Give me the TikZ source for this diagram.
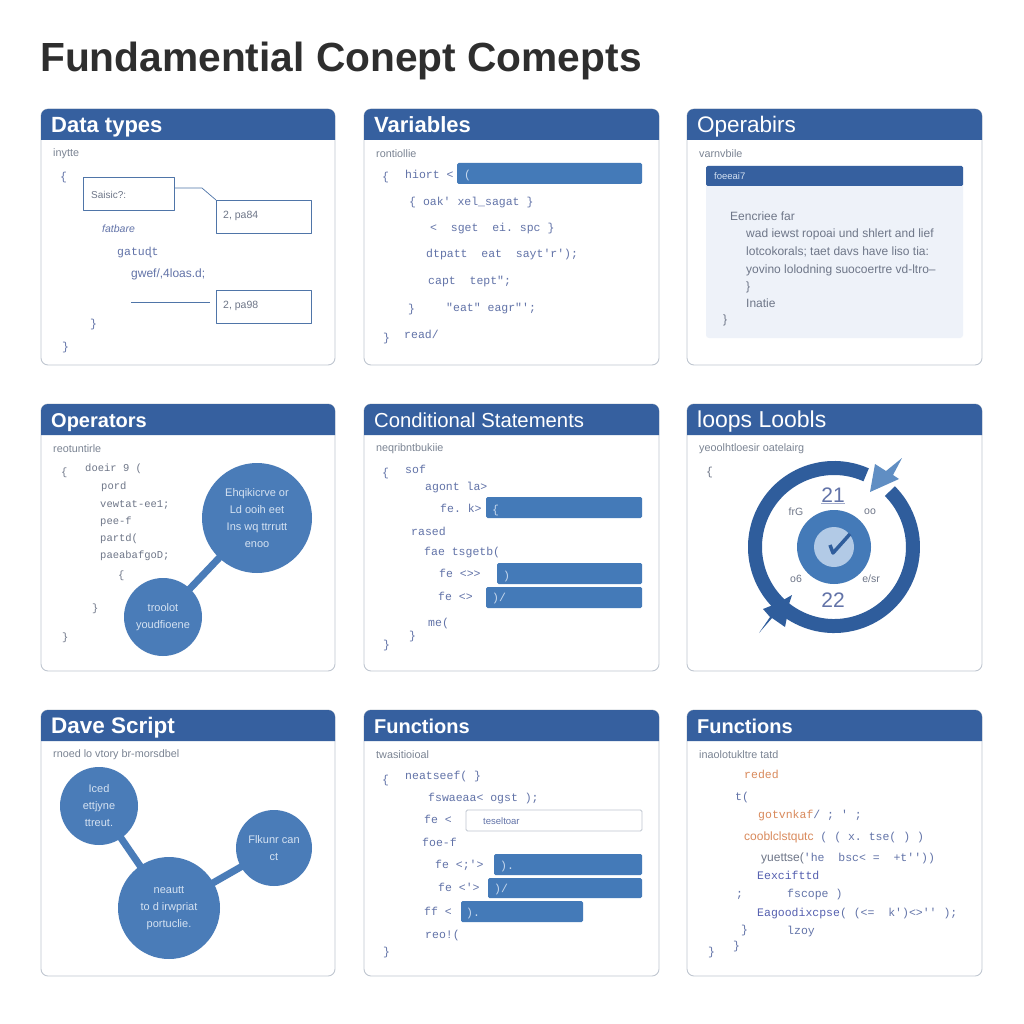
\documentclass[tikz,border=0pt]{standalone}
\usepackage{fontspec}
\setmainfont{Liberation Sans}
\newfontfamily\codefont{Liberation Mono}
\definecolor{hdrblue}{HTML}{36609F}
\definecolor{barblue}{HTML}{447AB8}
\definecolor{bubblue}{HTML}{4A7CB8}
\definecolor{ringblue}{HTML}{2F5D9C}
\definecolor{edgegray}{HTML}{BFC6D0}
\definecolor{subgray}{HTML}{7B8493}
\definecolor{codeslate}{HTML}{6273A8}
\definecolor{codegray}{HTML}{6E7688}
\definecolor{barmark}{HTML}{C6D8EE}
\definecolor{bubtext}{HTML}{D5E2F2}
\definecolor{boxline}{HTML}{4F75A8}
\definecolor{paleblue}{HTML}{EEF2F9}
\definecolor{warmcode}{HTML}{D98A5C}
\definecolor{violetcode}{HTML}{5560B0}
\newcommand{\hdrsize}[1]{\fontsize{#1}{24}\selectfont}
\tikzset{
  paneledge/.style={draw=edgegray, line width=0.9pt, fill=white, rounded corners=7pt},
  hdrtext/.style={anchor=west, inner sep=0pt, text=white, text height=16pt, text depth=5pt},
  subline/.style={anchor=west, inner sep=0pt, text=subgray, font=\fontsize{10.8}{12}\selectfont},
  codeline/.style={anchor=west, inner sep=0pt, text=codeslate, text height=8pt, text depth=2pt, font=\codefont\fontsize{11.5}{13}\selectfont},
  proseline/.style={anchor=west, inner sep=0pt, text=codegray, font=\fontsize{12}{14}\selectfont},
  codebar/.style={fill=barblue, rounded corners=1.5pt},
  pagebox/.style={draw=boxline, line width=0.9pt, minimum width=95pt, minimum height=33pt, anchor=north west, inner sep=0pt},
  bubble/.style={circle, fill=bubblue, inner sep=0pt, align=center, text=bubtext, font=\fontsize{11}{17}\selectfont},
  linkbar/.style={draw=bubblue, line width=7pt},
  dialtext/.style={inner sep=0pt, text=codegray, font=\fontsize{10.5}{12}\selectfont},
  dialnum/.style={inner sep=0pt, text=codeslate, font=\fontsize{21}{24}\selectfont}
}
\newcommand{\panelbox}[7]{
  \draw[paneledge] (#2,#3) rectangle (#4,#5);
  \fill[hdrblue] (#2,#3+31) [rounded corners=7pt] -- (#2,#3) -- (#4,#3) [sharp corners] -- (#4,#3+31) -- cycle;
  \node[hdrtext] (#1head) at (#2+10,#3+18) {#6};
  \node[subline] (#1sub) at (#2+12,#3+45) {#7};
}
\newcommand{\codelines}[3][]{
  \foreach[count=\i] \xx/\yy/\txt in {#3} \node[codeline,#1] (#2\i) at (\xx,\yy) {\txt};
}
\begin{document}
\begin{tikzpicture}[x=1pt, y=-1pt, line join=round]
	\useasboundingbox (0,0) rectangle (1024,1024);
	\node[anchor=west, inner sep=0pt, text=black!82, font=\fontsize{40.7}{44}\bfseries] (maintitle) at (40,61) {Fundamential Conept Comepts};

	\panelbox{dt}{41}{109}{335}{365}{\hdrsize{22}\bfseries Data types}{inytte}
	\node[pagebox, minimum width=91pt] (basic) at (83,177) {};
	\node[pagebox] (paA) at (216,200) {};
	\node[pagebox] (paB) at (216,290) {};
	\node[anchor=west, inner sep=0pt, text=codegray, font=\fontsize{10}{12}\selectfont] (basictxt) at (91,195) {Saisic?:};
	\node[anchor=west, inner sep=0pt, text=codegray, font=\fontsize{10.5}{12}\selectfont] (paAtxt) at (223,216) {2, pa84};
	\node[anchor=west, inner sep=0pt, text=codegray, font=\fontsize{10.5}{12}\selectfont] (paBtxt) at (223,306) {2, pa98};
	\draw[boxline, line width=0.7pt] ([yshift=6pt]basic.east) -- ++(27,0) -- (paA.north west);
	\coordinate (ruleA) at (131,302);
	\coordinate (ruleB) at (210,302);
	\draw[boxline, line width=0.7pt] (ruleA) -- (ruleB);
	\codelines{dt}{60/178/\{, 102/230/{\normalfont\fontsize{10.5}{12}\selectfont\itshape fatbare}, 117/252/gatuɖt, 131/274/{\normalfont\fontsize{12}{14}\selectfont gwef/,4loas.d;}, 90/324/\}, 62/347/\}}

	\panelbox{vr}{364}{109}{659}{365}{\hdrsize{22}\bfseries Variables}{rontiollie}
	\fill[codebar] (457,163) rectangle (642,184);
	\codelines{vr}{382/178/\{, 405/176/{hiort~<}, 464/176/{\textcolor{barmark}{(}}, 409/203/{\{~oak'~xel\_sagat~\}}, 430/229/{<~~sget~~ei.~spc~\}}, 426/255/{dtpatt~~eat~~sayt'r');}, 428/281/{capt~~tept";}, 408/309/\}, 446/308/{"eat"~eagr"';}, 383/338/\}, 404/335/{read/}}

	\panelbox{op}{687}{109}{982}{365}{\hdrsize{22.5}Operabirs}{varnvbile}
	\fill[paleblue, rounded corners=3pt] (706,166) rectangle (963,338);
	\fill[hdrblue, rounded corners=1.5pt] (706,166) rectangle (963,186);
	\node[anchor=west, inner sep=0pt, text=bubtext, font=\fontsize{9.5}{12}\selectfont] (opbar) at (714,176) {foeeai7};
	\foreach[count=\i] \xx/\yy/\txt in {730/216/Eencriee far, 746/234/wad iewst ropoai und shlert and lief, 746/252/{lotcokorals; taet davs have liso tia:}, 746/270/yovino lolodning suocoertre vd-ltro--, 746/287/\}, 746/303/Inatie, 723/320/\}}
		\node[proseline] (prose\i) at (\xx,\yy) {\txt};

	\panelbox{of}{41}{404}{335}{671}{\hdrsize{20}\bfseries Operators}{reotuntirle}
	\draw[linkbar] (257,518) -- (163,617);
	\node[bubble, minimum size=110pt] (bigop) at (257,518) {Ehqikicrve or\\Ld ooih eet\\Ins wq ttrrutt\\enoo};
	\node[bubble, minimum size=78pt] (smallop) at (163,617) {troolot\\youdfioene};
	\codelines[text=codegray, font=\codefont\fontsize{10.5}{13}\selectfont]{of}{61/472/\{, 85/468/{doeir~9~(}, 101/486/pord, 100/504/vewtat-ee1;, 100/521/pee-f, 100/538/partd(, 100/555/{paeabafgoD;}, 118/575/\{, 92/608/\}, 62/637/\}}

	\panelbox{cs}{364}{404}{659}{671}{\hdrsize{20.3}Conditional Statements}{neqribntbukiie}
	\fill[codebar] (486,497) rectangle (642,518);
	\fill[codebar] (497,563) rectangle (642,584);
	\fill[codebar] (486,587) rectangle (642,608);
	\codelines{cs}{382/473/\{, 405/470/sof, 425/487/{agont~la>}, 440/509/{fe.~k>}, 492/510/{\textcolor{barmark}{\{}}, 411/532/rased, 424/552/{fae~tsgetb(}, 439/574/{fe~<>>}, 503/576/{\textcolor{barmark}{)}}, 438/597/{fe~<>}, 492/598/{\textcolor{barmark}{)/}}, 428/623/me(, 409/636/\}, 383/645/\}}

	\panelbox{lp}{687}{404}{982}{671}{\hdrsize{23}loops Loobls}{yeoolhtloesir oatelairg}
	\coordinate (loopc) at (834,547);
	\draw[ringblue, line width=14pt] (loopc) ++(-66:79) arc[start angle=-66, end angle=-405, radius=79];
	\fill[barblue!85!white] (870,492) -- (875,464) -- (886,471) -- (902,458) -- (893,475) -- (899,479) -- cycle;
	\fill[ringblue] (759,633) -- (770,617) -- (763,609) -- (778,603) -- (792,595) -- (787,610) -- (795,615) -- (787,617) -- (785,627) -- (772,618) -- cycle;
	\node[circle, fill=barblue, minimum size=74pt, inner sep=0pt] (hubout) at (loopc) {};
	\node[circle, fill=barmark!85!barblue, minimum size=40pt, inner sep=0pt] (hubin) at (loopc) {};
	\draw[ringblue, line width=3.5pt] (830,545) -- (833,553) -- (850,534);
	\node[dialnum] (numA) at (833,495) {21};
	\node[dialnum] (numB) at (833,600) {22};
	\draw[codeslate!60, line width=0.6pt] ([yshift=-1pt]numA.south west) -- ([yshift=-1pt]numA.south east);
	\node[dialtext] (dialA) at (796,512) {frG};
	\node[dialtext] (dialB) at (870,512) {oo};
	\node[dialtext] (dialC) at (796,579) {o6};
	\node[dialtext] (dialD) at (871,579) {e/sr};
	\codelines[text=codegray]{lp}{706/472/\{}

	\panelbox{ds}{41}{710}{335}{976}{\hdrsize{22.5}\bfseries Dave Script}{rnoed lo vtory br-morsdbel}
	\coordinate (linkA) at (99,806);
	\coordinate (linkB) at (274,848);
	\coordinate (linkC) at (169,908);
	\draw[linkbar] (linkA) -- (linkC);
	\draw[linkbar] (linkB) -- (linkC);
	\node[bubble, minimum size=78pt] (leftbub) at (linkA) {Iced\\ettjyne\\ttreut.};
	\node[bubble, minimum size=76pt] (rightbub) at (linkB) {Flkunr can\\ct};
	\node[bubble, minimum size=102pt] (lowbub) at (linkC) {neautt\\to d irwpriat\\portuclie.};

	\panelbox{fa}{364}{710}{659}{976}{\hdrsize{20}\bfseries Functions}{twasitioioal}
	\draw[edgegray, line width=0.8pt, fill=white, rounded corners=1.5pt] (466,810) rectangle (642,831);
	\node[anchor=west, inner sep=0pt, text=codeslate, font=\fontsize{9.5}{12}\selectfont] (faboxtxt) at (483,821) {teseltoar};
	\fill[codebar] (494,854) rectangle (642,875);
	\fill[codebar] (488,878) rectangle (642,898);
	\fill[codebar] (461,901) rectangle (583,922);
	\codelines{fa}{382/780/\{, 405/776/{neatseef(~\}}, 428/798/{fswaeaa<~ogst~);}, 424/820/{fe~<}, 422/843/foe-f, 435/865/{fe~<;'>}, 500/866/{\textcolor{barmark}{).}}, 438/888/{fe~<'>}, 494/889/{\textcolor{barmark}{)/}}, 424/912/{ff~<}, 466/913/{\textcolor{barmark}{).}}, 425/935/reo!(, 383/952/\}}

	\panelbox{fb}{687}{710}{982}{976}{\hdrsize{20}\bfseries Functions}{inaolotukltre tatd}
	\codelines{fb}{744/775/{\textcolor{warmcode}{reded}}, 735/797/{t(}, 758/815/{\textcolor{warmcode}{gotvnkaf}/~;~'~;}, 744/837/{\textcolor{warmcode}{\normalfont\fontsize{12}{13}\selectfont cooblclstqutc}~(~(~x.~tse(~)~)}, 761/858/{\textcolor{codegray}{\normalfont\fontsize{12}{13}\selectfont yuettse(}'he~~bsc<~=~~+t''))}, 757/876/{\textcolor{violetcode}{Eexcifttd}}, 736/894/;, 787/894/{fscope~)}, 757/913/{\textcolor{violetcode}{Eagoodixcpse}(~(<=~~k')<>''~);}, 741/930/\}, 787/931/{lzoy}, 733/946/\}, 708/952/\}}
\end{tikzpicture}
\end{document}
